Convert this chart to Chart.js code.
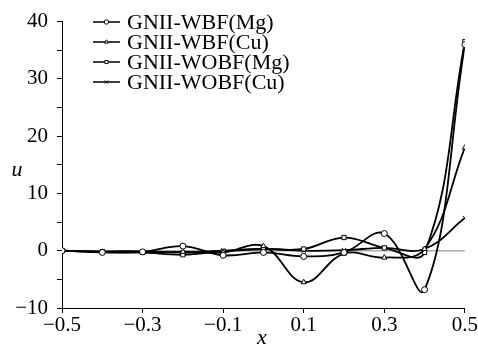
<!DOCTYPE html>
<html>
<head>
<meta charset="utf-8">
<script src="https://cdn.jsdelivr.net/npm/chart.js@4/dist/chart.umd.min.js"></script>
<style>
  html, body { margin: 0; padding: 0; background: #fff; }
  #wrap { width: 478px; height: 350px; }
</style>
</head>
<body>
<div id="wrap"><canvas id="grafico"></canvas></div>
<script>
// dados
var xs = [-0.5, -0.4, -0.3, -0.2, -0.1, 0, 0.1, 0.2, 0.3, 0.4, 0.5];
var wbfMg = [0, -0.3, -0.2, 0.8, -0.8, -0.3, -1.0, -0.3, 3.0, -6.8, 36];
var wbfCu = [0, -0.2, -0.3, -0.2, -0.3, 0.8, -5.5, -0.5, -1.2, 0.3, 18];
var wobfMg = [0, -0.2, -0.3, -0.7, -0.1, 0.3, 0.3, 2.3, 0.5, -0.3, 36.5];
var wobfCu = [0, -0.1, -0.1, -0.3, 0, 0.3, 0, 0.1, 0.5, 0.3, 5.7];
var labels = ['GNII-WBF(Mg)', 'GNII-WBF(Cu)', 'GNII-WOBF(Mg)', 'GNII-WOBF(Cu)'];
var markers = ['circle', 'triangle', 'rect', 'crossRot'];
var xTicks = [-0.5, -0.3, -0.1, 0.1, 0.3, 0.5];
var yTicks = [-10, -5, 0, 5, 10, 15, 20, 25, 30, 35, 40];

var fonte = '"Liberation Serif", "Times New Roman", serif';

function pontos(ys) {
	return xs.map(function(x, i) { return { x: x, y: ys[i] }; });
}

function serie(label, ys, marker) {
	return {
		label: label,
		data: pontos(ys),
		borderColor: '#000',
		borderWidth: 1.8,
		backgroundColor: '#fff',
		pointStyle: marker,
		pointRadius: 3,
		pointBorderWidth: 1,
		pointBorderColor: '#000',
		pointBackgroundColor: '#fff',
		tension: 0.4,
		fill: false
	};
}

function menos(v) {
	return String(v).replace('-', '\u2212');
}

// legenda e títulos desenhados à mão
var extras = {
	id: 'extras',
	afterDraw: function(chart) {
		var ctx = chart.ctx;
		ctx.save();
		chart.data.datasets.forEach(function(ds, i) {
			if (!ds.legenda) return;
			var y = 22 + (ds.legenda - 1) * 20;
			ctx.strokeStyle = '#000';
			ctx.lineWidth = 1.5;
			ctx.beginPath();
			ctx.moveTo(93, y);
			ctx.lineTo(120, y);
			ctx.stroke();
			ctx.fillStyle = '#fff';
			ctx.lineWidth = 1;
			Chart.helpers.drawPoint(ctx, { pointStyle: ds.pointStyle, radius: 2.2, rotation: 0, borderWidth: 1 }, 106.5, y);
			ctx.fillStyle = '#000';
			ctx.font = '22px ' + fonte;
			ctx.textAlign = 'left';
			ctx.textBaseline = 'middle';
			ctx.fillText(ds.label, 127, y + 1);
		});
		ctx.font = 'italic 22px ' + fonte;
		ctx.textAlign = 'center';
		ctx.textBaseline = 'middle';
		ctx.fillStyle = '#000';
		ctx.fillText('u', 17, 170);
		ctx.fillText('x', 262, 338);
		ctx.restore();
	}
};

var conjuntos = [
	{
		label: 'zero',
		data: [{ x: -0.5, y: 0 }, { x: 0.5, y: 0 }],
		borderColor: '#aaa',
		borderWidth: 1.5,
		pointRadius: 0,
		tension: 0,
		order: 10
	}
];
[wbfMg, wbfCu, wobfMg, wobfCu].forEach(function(ys, i) {
	var ds = serie(labels[i], ys, markers[i]);
	ds.legenda = i + 1;
	conjuntos.push(ds);
});

new Chart(document.getElementById('grafico'), {
	type: 'line',
	data: { datasets: conjuntos },
	plugins: [extras],
	options: {
		responsive: true,
		maintainAspectRatio: false,
		animation: false,
		layout: { padding: { top: 11, right: 13, left: 0, bottom: 0 } },
		plugins: {
			legend: { display: false },
			tooltip: { enabled: false }
		},
		scales: {
			x: {
				type: 'linear',
				min: -0.5,
				max: 0.5,
				afterBuildTicks: function(s) { s.ticks = xTicks.map(function(v) { return { value: v }; }); },
				afterFit: function(s) { s.height = 42; },
				border: { display: true, color: '#000', width: 1 },
				grid: { display: true, drawOnChartArea: false, color: '#000', tickLength: 5 },
				ticks: {
					color: '#000',
					padding: 0,
					maxRotation: 0,
					autoSkip: false,
					font: { family: fonte, size: 21 },
					callback: function(v) { return menos(v.toFixed(1)); }
				}
			},
			y: {
				min: -10,
				max: 40,
				afterBuildTicks: function(s) { s.ticks = yTicks.map(function(v) { return { value: v }; }); },
				afterFit: function(s) { s.width = 62; },
				border: { display: true, color: '#000', width: 1 },
				grid: { display: true, drawOnChartArea: false, color: '#000', tickLength: 5 },
				ticks: {
					color: '#000',
					padding: 9,
					autoSkip: false,
					font: { family: fonte, size: 21 },
					callback: function(v) { return v % 10 === 0 ? menos(v) : ''; }
				}
			}
		}
	}
});
</script>
</body>
</html>
